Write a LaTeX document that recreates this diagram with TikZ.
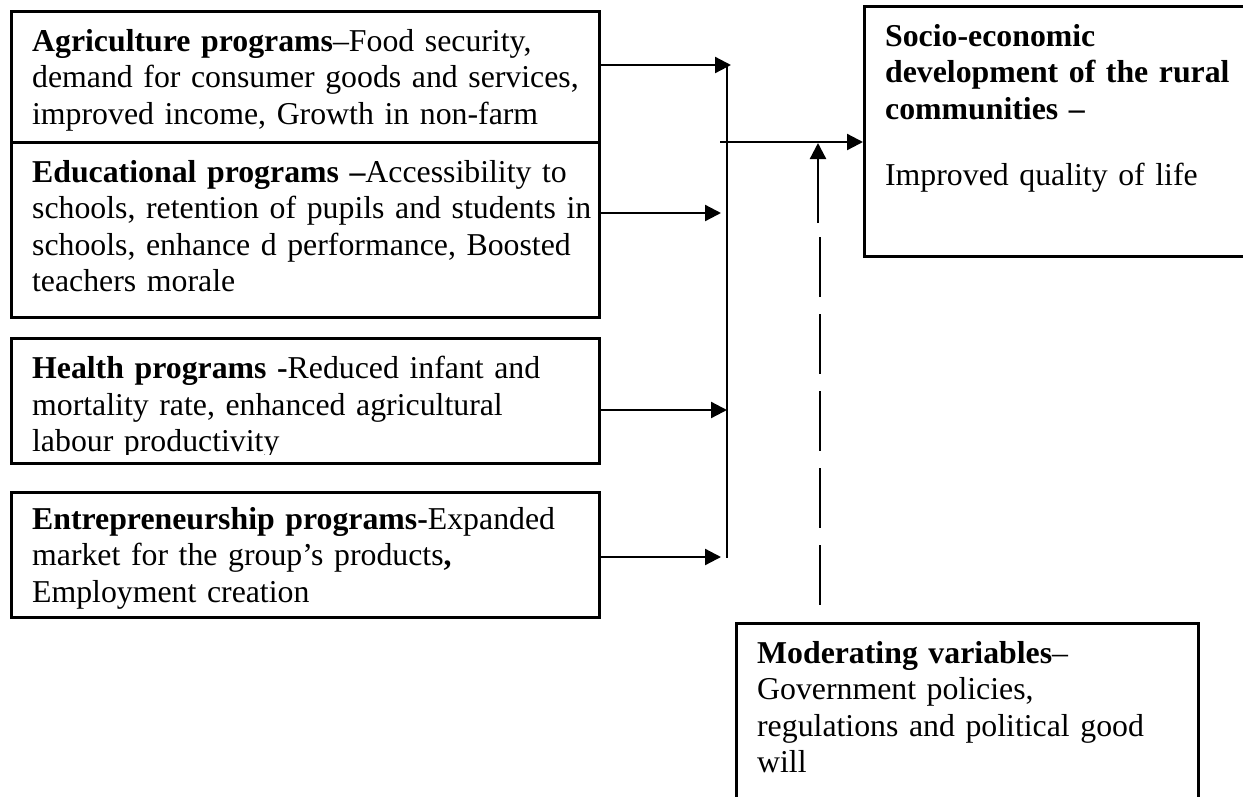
\documentclass[tikz,border=0pt]{standalone}
\usepackage{fontspec}
\setmainfont{Liberation Serif}
\usetikzlibrary{arrows.meta,positioning}

\begin{document}
\begin{tikzpicture}[x=1pt,y=-1pt,>={Triangle[length=16pt,width=16pt]},
 font=\fontsize{31.8}{36.5}\selectfont,line width=2.3pt,
 box/.style={draw,line width=2.8pt,anchor=north west,minimum width=588pt,inner sep=0pt},
 txt/.style={anchor=north west,align=left,text width=560pt,inner xsep=21pt,inner ysep=18pt},
 modline/.style={dash pattern=on 60pt off 17pt}]
\clip (0,0) rectangle (1243,796);

% programme boxes
\node[box,minimum height=131pt] (agri) at (10,10) {};
\node[box,minimum height=175pt] (edu) at (10,141) {};
\node[box,minimum height=125pt] (health) at (10,337) {};
\node[box,minimum height=125pt] (entre) at (10,491) {};
\node[txt] (agritxt) at (agri.north west) {\textbf{Agriculture programs}--Food security,\\demand for consumer goods and services,\\improved income, Growth in non-farm};
\node[txt] (edutxt) at (edu.north west) {\textbf{Educational programs --}Accessibility to\\schools, retention of pupils and students in\\schools, enhance d performance, Boosted\\teachers morale};
\begin{scope}
\clip (health.north west) rectangle ([yshift=10pt]health.south east);
\node[txt] (healthtxt) at (health.north west) {\textbf{Health programs -}Reduced infant and\\mortality rate, enhanced agricultural\\labour productivity};
\end{scope}
\node[txt,inner ysep=15pt] (entretxt) at (entre.north west) {\textbf{Entrepreneurship programs-}Expanded\\market for the group's products\textbf{,}\\Employment creation};

% outcome and moderating boxes
\node[box,minimum width=400pt,minimum height=250pt] (socio) at (863,5) {};
\node[box,minimum width=462pt,minimum height=220pt] (mod) at (735,622) {};
\node[txt,text width=370pt] (sociotxt) at (socio.north west) {\textbf{Socio-economic}\\\textbf{development of the rural}\\\textbf{communities --}\\[30pt]Improved quality of life};
\node[txt,text width=430pt] (modtxt) at (mod.north west) {\textbf{Moderating variables}--\\Government policies,\\regulations and political good\\will};

% collector line and arrows
\coordinate (ctop) at (727,65);
\coordinate (cbot) at (727,558);
\draw (ctop) -- (cbot);
\coordinate (ina) at (731,65);
\coordinate (inb) at (721,213);
\coordinate (inc) at (727,410);
\coordinate (ind) at (721,557);
\draw[->] (agri.east |- ina) -- (ina);
\draw[->] (edu.east |- inb) -- (inb);
\draw[->] (health.east |- inc) -- (inc);
\draw[->] (entre.east |- ind) -- (ind);
\coordinate (hub) at (720,142);
\draw[->] (hub) -- (hub -| socio.west);

% moderating link
\coordinate (mtop) at (818,143);
\coordinate (mbot) at (818,223);
\coordinate (mdash) at (820,237);
\draw[->] (mbot) -- (mtop);
\draw[modline] (mdash) -- ([yshift=16pt]mod.north -| mdash);
\end{tikzpicture}
\end{document}
